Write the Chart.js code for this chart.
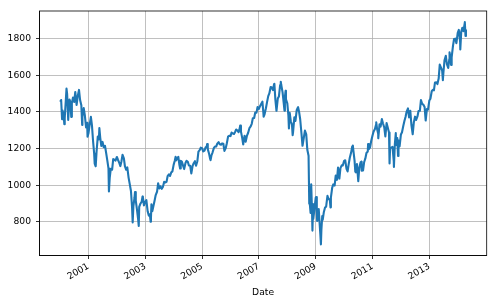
<!DOCTYPE html>
<html>
<head>
<meta charset="utf-8">
<script src="https://cdn.jsdelivr.net/npm/chart.js@4.4.1/dist/chart.umd.min.js"></script>
<style>
  html, body { margin: 0; padding: 0; background: #fff; }
</style>
</head>
<body>
<canvas id="chart" width="496" height="305"></canvas>
<script>
// closing level on the 1st and 15th of each month
const close2000 = [1455, 1465, 1409, 1388, 1366, 1464, 1498, 1356, 1468, 1452, 1448, 1478,
                   1454, 1509, 1438, 1484, 1520, 1465, 1436, 1374, 1421, 1382, 1315, 1340];
const close2001 = [1283, 1326, 1373, 1326, 1241, 1173, 1106, 1183, 1266, 1250, 1260, 1214,
                   1236, 1208, 1215, 1179, 1133, 1092, 1040, 1090, 1085, 1142, 1139, 1134];
const close2002 = [1154, 1139, 1122, 1104, 1131, 1166, 1146, 1102, 1084, 1097, 1040, 1007,
                   968, 881, 884, 930, 916, 870, 815, 881, 900, 909, 934, 890];
const close2003 = [909, 918, 856, 834, 841, 822, 858, 885, 916, 946, 964, 1010,
                   982, 994, 980, 990, 1018, 1015, 1018, 1049, 1059, 1050, 1070, 1075];
const close2004 = [1112, 1133, 1135, 1145, 1155, 1110, 1133, 1129, 1107, 1088, 1121, 1133,
                   1128, 1107, 1106, 1064, 1105, 1120, 1131, 1106, 1131, 1183, 1191, 1205];
const close2005 = [1202, 1184, 1189, 1206, 1210, 1197, 1172, 1143, 1162, 1178, 1202, 1211,
                   1211, 1227, 1235, 1223, 1221, 1228, 1226, 1187, 1203, 1229, 1265, 1270];
const close2006 = [1268, 1287, 1282, 1280, 1291, 1304, 1298, 1289, 1313, 1294, 1257, 1230,
                   1270, 1237, 1271, 1285, 1311, 1319, 1335, 1365, 1367, 1397, 1396, 1427];
const close2007 = [1416, 1431, 1445, 1456, 1399, 1387, 1420, 1452, 1486, 1501, 1536, 1533,
                   1519, 1552, 1465, 1406, 1474, 1484, 1547, 1548, 1508, 1452, 1481, 1468];
const close2008 = [1447, 1381, 1395, 1349, 1331, 1288, 1370, 1351, 1409, 1423, 1400, 1360,
                   1285, 1215, 1260, 1298, 1277, 1193, 1161, 907, 966, 850, 816, 868];
const close2009 = [931, 843, 826, 827, 735, 756, 811, 852, 878, 883, 942, 923,
                   923, 932, 987, 1004, 998, 1052, 1029, 1096, 1036, 1093, 1108, 1107];
const close2010 = [1133, 1136, 1089, 1075, 1115, 1150, 1178, 1211, 1186, 1135, 1070, 1115,
                   1027, 1095, 1125, 1079, 1080, 1125, 1146, 1176, 1184, 1197, 1206, 1241];
const close2011 = [1271, 1293, 1307, 1330, 1306, 1281, 1332, 1320, 1361, 1338, 1315, 1266,
                   1339, 1316, 1287, 1204, 1205, 1209, 1131, 1225, 1219, 1257, 1244, 1212];
const close2012 = [1277, 1289, 1324, 1350, 1374, 1402, 1419, 1370, 1406, 1330, 1278, 1342,
                   1374, 1356, 1375, 1405, 1406, 1465, 1444, 1440, 1427, 1353, 1416, 1413];
const close2013 = [1462, 1472, 1513, 1521, 1518, 1561, 1562, 1552, 1582, 1658, 1640, 1626,
                   1614, 1682, 1706, 1661, 1640, 1688, 1695, 1698, 1761, 1798, 1800, 1775];
const close2014 = [1832, 1848, 1782, 1838, 1859, 1841, 1885];
const closeYears = [2000, 2001, 2002, 2003, 2004, 2005, 2006, 2007, 2008, 2009, 2010, 2011, 2012, 2013, 2014];
const closeByYear = [close2000, close2001, close2002, close2003, close2004, close2005, close2006, close2007,
                     close2008, close2009, close2010, close2011, close2012, close2013, close2014];

// sharp highs and lows between the half-month points
const spikeDates  = ['2000-01-27', '2000-02-25', '2000-03-24', '2000-05-24', '2000-09-01', '2000-10-12', '2000-12-20',
                     '2001-03-22', '2001-04-04', '2001-05-21', '2001-09-21', '2002-07-23', '2002-08-22',
                     '2002-10-09', '2002-11-27', '2003-03-11', '2003-03-21', '2004-01-26', '2004-03-24',
                     '2005-03-07', '2005-04-20', '2006-05-05', '2006-06-13', '2007-02-27', '2007-03-05',
                     '2007-07-19', '2007-08-15', '2007-10-09', '2007-11-26', '2007-12-10', '2008-01-22',
                     '2008-03-10', '2008-05-19', '2008-10-10', '2008-10-27', '2008-11-04', '2008-11-20',
                     '2008-11-28', '2009-01-06', '2009-01-20', '2009-02-09', '2009-03-09', '2009-03-26',
                     '2009-07-10', '2010-04-23', '2010-05-25', '2010-07-02', '2010-08-09', '2010-11-05',
                     '2011-02-18', '2011-03-16', '2011-08-08', '2011-10-03', '2011-10-27', '2011-11-25',
                     '2012-06-04', '2012-11-15', '2013-06-24', '2013-09-18', '2013-10-08', '2014-02-03',
                     '2014-04-02', '2014-04-11', '2014-04-17'];
const spikeValues = [1360, 1333, 1527, 1373, 1520, 1329, 1264,
                     1117, 1103, 1312, 966, 797, 962,
                     777, 938, 800, 895, 1155, 1091,
                     1225, 1137, 1325, 1223, 1399, 1374,
                     1553, 1406, 1565, 1407, 1515, 1310,
                     1273, 1426, 899, 848, 1005, 752,
                     896, 935, 805, 870, 677, 832,
                     879, 1217, 1074, 1022, 1128, 1225,
                     1343, 1256, 1119, 1099, 1285, 1159,
                     1278, 1353, 1573, 1725, 1656, 1741,
                     1890, 1815, 1850];

const yTicks = [800, 1000, 1200, 1400, 1600, 1800];
const xTicks = [2001, 2003, 2005, 2007, 2009, 2011, 2013];

const toYear = (y, m, d) => {
  const a = Date.UTC(y, 0, 1), b = Date.UTC(y + 1, 0, 1);
  return y + (Date.UTC(y, m - 1, d) - a) / (b - a);
};

const points = [];
closeYears.forEach((yr, k) => {
  closeByYear[k].forEach((v, i) => {
    points.push({ x: toYear(yr, Math.floor(i / 2) + 1, i % 2 ? 15 : (yr === 2000 && i === 0 ? 3 : 1)), y: v });
  });
});
spikeDates.forEach((s, i) => {
  const [y, m, d] = s.split('-').map(Number);
  points.push({ x: toYear(y, m, d), y: spikeValues[i] });
});
points.sort((a, b) => a.x - b.x);

const font = { family: 'DejaVu Sans', size: 9.2 };

const frame = {
  id: 'frame',
  afterDraw(chart) {
    const { ctx, chartArea: a } = chart;
    ctx.save();
    ctx.strokeStyle = '#000';
    ctx.lineWidth = 0.8;
    ctx.strokeRect(a.left, a.top, a.right - a.left, a.bottom - a.top);
    ctx.restore();
  }
};

new Chart(document.getElementById('chart'), {
  type: 'line',
  data: {
    datasets: [{
      data: points,
      borderColor: '#1f77b4',
      borderWidth: 2.1,
      borderJoinStyle: 'round',
      pointRadius: 0,
      tension: 0,
      fill: false
    }]
  },
  options: {
    responsive: false,
    animation: false,
    devicePixelRatio: 1,
    layout: { padding: { top: 11, right: 9.3, left: 0, bottom: 0 } },
    plugins: { legend: { display: false }, tooltip: { enabled: false } },
    scales: {
      x: {
        type: 'linear',
        min: 1999.276,
        max: 2015.02,
        afterBuildTicks: (axis) => { axis.ticks = xTicks.map(v => ({ value: v })); },
        afterFit: (axis) => { axis.height = 49.5; },
        ticks: {
          autoSkip: false,
          minRotation: 30,
          maxRotation: 30,
          padding: 2,
          color: '#000',
          font,
          callback: (v) => String(v)
        },
        grid: { color: '#b0b0b0', lineWidth: 0.8, tickColor: '#000', tickLength: 3.5 },
        border: { color: '#000', width: 0.8 },
        title: { display: true, text: 'Date', color: '#000', font, padding: { top: 0, bottom: 7 } }
      },
      y: {
        type: 'linear',
        min: 616,
        max: 1951,
        afterBuildTicks: (axis) => { axis.ticks = yTicks.map(v => ({ value: v })); },
        afterFit: (axis) => { axis.width = 39.5; },
        ticks: { padding: 5, color: '#000', font, callback: (v) => String(v) },
        grid: { color: '#b0b0b0', lineWidth: 0.8, tickColor: '#000', tickLength: 3.5 },
        border: { color: '#000', width: 0.8 }
      }
    }
  },
  plugins: [frame]
});
</script>
</body>
</html>
